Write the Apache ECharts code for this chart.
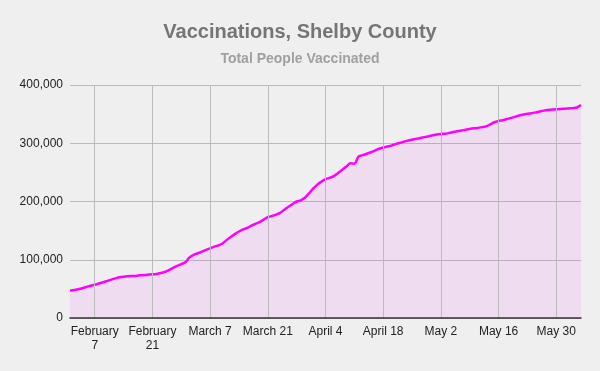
<!DOCTYPE html>
<html><head><meta charset="utf-8">
<script src="https://cdn.jsdelivr.net/npm/echarts@6/dist/echarts.min.js"></script>
<style>html,body{margin:0;padding:0;background:#efefef}#c{width:600px;height:371px}</style>
</head><body><div id="c"></div>
<script>
// Daily dates from Feb 1 to Jun 5, 2021
const startDate = [2021, 1, 1]; // year, month(0-based), day
const dayCount = 125;
const dates = [];
for (let i = 0; i < dayCount; i++) {
  const d = new Date(Date.UTC(startDate[0], startDate[1], startDate[2] + i));
  dates.push(d.toISOString().slice(0, 10));
}

const totalVaccinated = [
  47000, 48000, 49200, 51000, 53500, 55500, 57200, 59300, 61300, 63500,
  65800, 68000, 70000, 71000, 71600, 72000, 72200, 73200, 74000, 74500,
  74900, 75600, 77300, 79000, 82000, 86000, 89500, 92600, 95600, 104000,
  108500, 111200, 114000, 117000, 119500, 122500, 124500, 128000, 133700, 139000,
  144000, 148500, 152000, 154500, 158500, 161500, 164600, 169000, 173000, 175200,
  177500, 180500, 186000, 191000, 195500, 200000, 202000, 206500, 214000, 222000,
  229000, 234000, 238500, 240500, 243500, 248500, 254000, 259500, 265500, 265000,
  277000, 279500, 282000, 284500, 287500, 290500, 292600, 294300, 296000, 298500,
  300500, 302500, 304500, 306000, 307500, 309000, 310500, 312000, 313600, 315200,
  316000, 316300, 317600, 319200, 320500, 321800, 323300, 324600, 325600, 326400,
  327700, 329000, 332500, 336000, 338200, 339500, 341500, 343400, 345500, 347600,
  349300, 350500, 351600, 353000, 354600, 356000, 357000, 357800, 358300, 358900,
  359300, 359800, 360300, 361300, 365500
];

const tickDates = ['2021-02-07','2021-02-21','2021-03-07','2021-03-21','2021-04-04','2021-04-18','2021-05-02','2021-05-16','2021-05-30'];
const tickLabels = ['February\n7','February\n21','March 7','March 21','April 4','April 18','May 2','May 16','May 30'];

const yMin = 0, yMax = 400000, yStep = 100000;

function fmt(n) { return String(n).replace(/\B(?=(\d{3})+(?!\d))/g, ','); }
const isTick = (i, v) => tickDates.indexOf(v) >= 0;

const chart = echarts.init(document.getElementById('c'), null, {renderer: 'canvas'});
chart.setOption({
  backgroundColor: '#efefef',
  animation: false,
  title: [
    { text: 'Vaccinations, Shelby County', left: 'center', top: 17,
      textStyle: { fontFamily: 'Liberation Sans', fontSize: 20, fontWeight: 'bold', color: '#757575', lineHeight: 20 } },
    { text: 'Total People Vaccinated', left: 'center', top: 47,
      textStyle: { fontFamily: 'Liberation Sans', fontSize: 14, fontWeight: 'bold', color: '#a0a0a0', lineHeight: 14 } }
  ],
  grid: { left: 70, right: 19, top: 85, bottom: 53, containLabel: false },
  xAxis: {
    type: 'category',
    data: dates,
    boundaryGap: false,
    z: 3,
    axisLine: { show: true, lineStyle: { color: '#333', width: 1.5 } },
    axisTick: { show: false },
    axisLabel: {
      interval: isTick,
      formatter: v => tickLabels[tickDates.indexOf(v)] || '',
      fontFamily: 'Liberation Sans', fontSize: 12, color: '#222', lineHeight: 14, margin: 7
    },
    splitLine: { show: true, interval: isTick, lineStyle: { color: '#bbb', width: 1 } }
  },
  yAxis: {
    type: 'value', min: yMin, max: yMax, interval: yStep,
    axisLine: { show: false }, axisTick: { show: false },
    axisLabel: { formatter: v => fmt(v), fontFamily: 'Liberation Sans', fontSize: 12, color: '#222', margin: 7 },
    splitLine: { show: true, lineStyle: { color: '#bbb', width: 1 } }
  },
  series: [{
    type: 'line',
    data: totalVaccinated,
    showSymbol: false,
    smooth: 0.3,
    z: 2,
    lineStyle: { color: '#ff00ff', width: 2.5 },
    itemStyle: { color: '#ff00ff' },
    areaStyle: { color: 'rgba(255,0,255,0.11)' }
  }]
});
</script></body></html>
